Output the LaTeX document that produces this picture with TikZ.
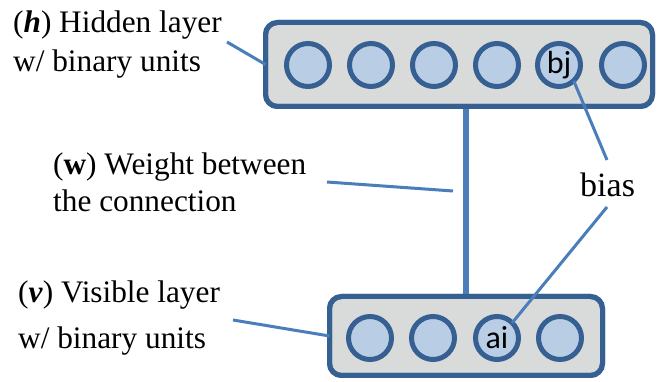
\documentclass[tikz,border=0pt]{standalone}
\usepackage{fontspec}
\setmainfont{Liberation Serif}
\newfontfamily\labelfont{Liberation Serif}
\newfontfamily\unitfont{Carlito}
\definecolor{edgeblue}{HTML}{376092}
\definecolor{lineblue}{HTML}{4A7EBB}
\definecolor{boxgray}{HTML}{D9DADA}
\definecolor{unitfill}{HTML}{B9CDE5}
\tikzset{
  layerbox/.style={draw=edgeblue, fill=boxgray, line width=5pt, rounded corners=12pt,
    rectangle, inner sep=0pt, outer sep=0pt},
  unit/.style={circle, draw=edgeblue, fill=unitfill, line width=5pt, minimum size=43pt,
    inner sep=0pt, outer sep=0pt, font=\unitfont\fontsize{32}{34}\selectfont},
  labeltext/.style={anchor=base west, inner sep=0pt, font=\labelfont\fontsize{31.3}{36}\selectfont},
  pointer/.style={draw=lineblue, line width=3pt},
  weightline/.style={draw=lineblue, line width=6pt}
}
\begin{document}
\begin{tikzpicture}[x=1pt, y=-1pt]
  \useasboundingbox (0,0) rectangle (657,382);

  % coordinates for the free ends of the pointer lines
  \coordinate (hend) at (227,42);
  \coordinate (vend) at (233,320);
  \coordinate (wstart) at (327,182);
  \coordinate (wend) at (453,191);
  \coordinate (btop) at (607,160);
  \coordinate (bbot) at (607,207);
  \coordinate (wx) at (466,200);

  % layers
  \node[layerbox, minimum width=387pt, minimum height=84pt] (hidden) at (459,64.5) {};
  \node[layerbox, minimum width=273pt, minimum height=79pt] (visible) at (466,336) {};

  % connection between the layers, with the layer outlines drawn over its ends
  \draw[weightline] (hidden.south -| wx) -- (visible.north -| wx);
  \draw[layerbox, fill=none] (hidden.south west) rectangle (hidden.north east);
  \draw[layerbox, fill=none] (visible.south west) rectangle (visible.north east);

  % hidden units
  \node[unit] (h1) at (308,65) {};
  \node[unit] (h2) at (371,65) {};
  \node[unit] (h3) at (434,65) {};
  \node[unit] (h4) at (497,65) {};
  \node[unit] (bj) at (559,65) {bj};
  \node[unit] (h6) at (623,65) {};

  % visible units
  \node[unit] (v1) at (370,338) {};
  \node[unit] (v2) at (433,338) {};
  \node[unit] (ai) at (497,338) {ai};
  \node[unit] (v4) at (560,338) {};

  % labels
  \node[labeltext] (hlab1) at (13,33) {(\textbf{\textit{h}}) Hidden layer};
  \node[labeltext] (hlab2) at (13,72) {w/ binary units};
  \node[labeltext] (wlab1) at (53,175) {(\textbf{w}) Weight between};
  \node[labeltext] (wlab2) at (53,212) {the connection};
  \node[labeltext] (vlab1) at (18,303) {(\textbf{\textit{v}}) Visible layer};
  \node[labeltext] (vlab2) at (18,349) {w/ binary units};
  \node[labeltext, font=\labelfont\fontsize{34}{40}\selectfont] (bias) at (580,197) {bias};

  % pointer lines
  \draw[pointer] (hend) -- (hidden.west);
  \draw[pointer] (vend) -- (visible.west);
  \draw[pointer] (wstart) -- (wend);
  \draw[pointer] (bj.-47) -- (btop);
  \draw[pointer] (bbot) -- (ai.45);
\end{tikzpicture}
\end{document}
